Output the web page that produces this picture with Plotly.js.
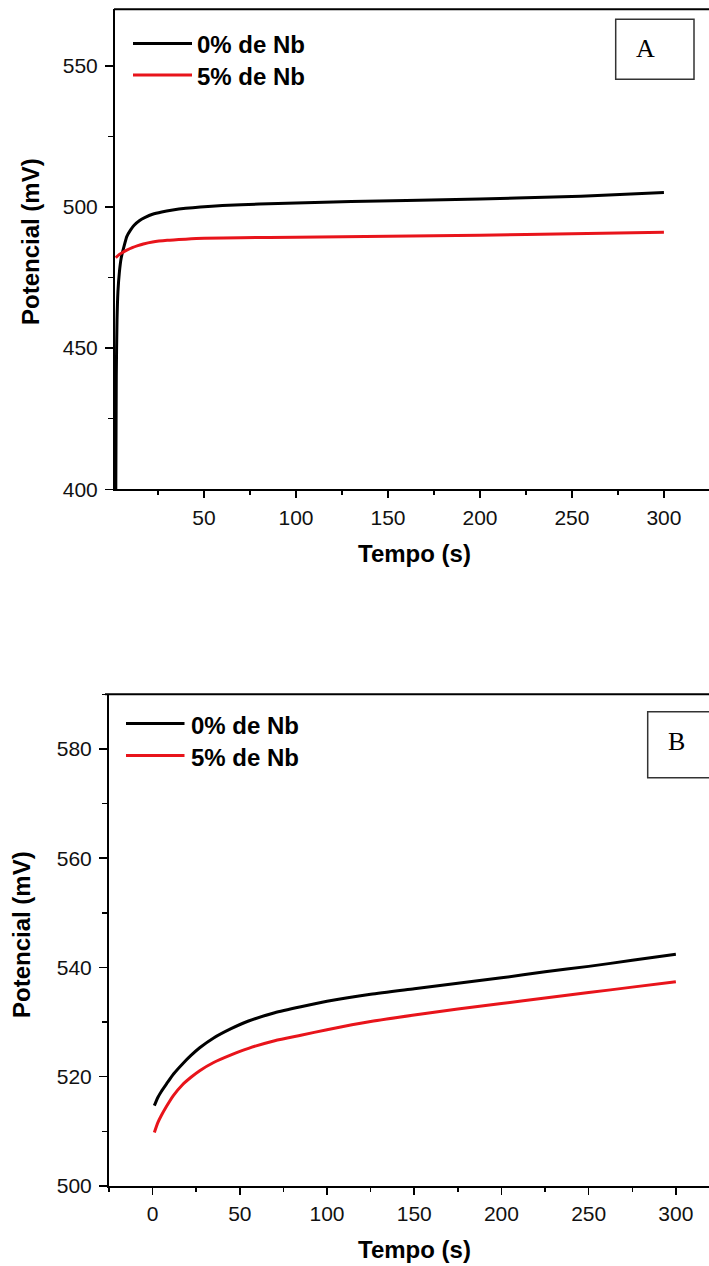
<!DOCTYPE html>
<html>
<head>
<meta charset="utf-8">
<script src="https://cdn.plot.ly/plotly-3.0.1.min.js"></script>
<style>
html,body{margin:0;padding:0;background:#fff;overflow:hidden;}
#chart{width:709px;height:1266px;}
</style>
</head>
<body>
<div id="chart"></div>
<script>
// ---- Data ----
const seriesNames = ["0% de Nb", "5% de Nb"];
const panelLabels = ["A", "B"];
const xTitle = "Tempo (s)";
const yTitle = "Potencial (mV)";

// Panel A
const tA_0 = [2, 2.3, 2.7, 3.2, 4, 5, 6.5, 8, 10, 12, 15, 18, 22, 27, 33, 40, 48, 60, 80, 100, 130, 160, 200, 240, 270, 300];
const vA_0 = [395, 440, 460, 470, 477, 482, 486, 489.5, 491.8, 493.5, 495.2, 496.3, 497.4, 498.2, 498.9, 499.5, 500, 500.5, 501, 501.4, 501.9, 502.3, 502.8, 503.5, 504.2, 505.1];
const tA_5 = [2, 4, 6, 8, 11, 14, 17, 22, 30, 40, 50, 70, 100, 150, 200, 250, 300];
const vA_5 = [482, 483.2, 484, 484.7, 485.6, 486.3, 486.9, 487.6, 488.2, 488.6, 488.9, 489.1, 489.3, 489.6, 490, 490.5, 491];

// Panel B
const tB = [1, 3, 5, 8, 12, 17, 22, 27, 35, 45, 55, 70, 85, 100, 125, 150, 175, 200, 225, 250, 275, 300];
const vB_0 = [514.7, 516.2, 517.3, 518.7, 520.5, 522.3, 523.9, 525.3, 527.1, 528.8, 530.2, 531.7, 532.8, 533.8, 535.1, 536.1, 537.1, 538.1, 539.2, 540.2, 541.3, 542.4];
const vB_5 = [509.8, 511.6, 512.9, 514.6, 516.6, 518.5, 519.9, 521.1, 522.6, 524, 525.2, 526.6, 527.6, 528.6, 530.1, 531.3, 532.4, 533.4, 534.4, 535.4, 536.4, 537.4];

// ---- Layout helpers (pixel -> paper) ----
const W = 709, H = 1266;
const px = x => x / W;
const py = y => 1 - y / H;

const colors = ["#000000", "#e8141b"];
const sans = "Liberation Sans, Arial, sans-serif";

function line(c) { return {color: c, width: 3, shape: "spline", smoothing: 0.6}; }

const traces = [
  {x: tA_0, y: vA_0, xaxis: "x", yaxis: "y", mode: "lines", line: line(colors[0]), name: seriesNames[0]},
  {x: tA_5, y: vA_5, xaxis: "x", yaxis: "y", mode: "lines", line: line(colors[1]), name: seriesNames[1]},
  {x: tB, y: vB_0, xaxis: "x2", yaxis: "y2", mode: "lines", line: line(colors[0]), name: seriesNames[0]},
  {x: tB, y: vB_5, xaxis: "x2", yaxis: "y2", mode: "lines", line: line(colors[1]), name: seriesNames[1]}
];

function xAxis(range, domain, anchor) {
  return {
    domain: domain, range: range, anchor: anchor,
    tick0: 0, dtick: 50, ticks: "outside", ticklen: 7, tickwidth: 1.5, tickcolor: "#000",
    minor: {dtick: 25, tick0: 0, ticks: "outside", ticklen: 4, tickwidth: 1.5, tickcolor: "#000"},
    showline: true, linewidth: 2, linecolor: "#000",
    showgrid: false, zeroline: false,
    tickfont: {family: sans, size: 21, color: "#111"},
    ticklabelstandoff: 1,
    fixedrange: true
  };
}
function yAxis(range, domain, anchor, dtick, minorDtick) {
  return {
    domain: domain, range: range, anchor: anchor,
    dtick: dtick, ticks: "outside", ticklen: 8, tickwidth: 1.5, tickcolor: "#000",
    minor: {dtick: minorDtick, ticks: "outside", ticklen: 5, tickwidth: 1.5, tickcolor: "#000"},
    showline: true, linewidth: 2, linecolor: "#000",
    showgrid: false, zeroline: false,
    tickfont: {family: sans, size: 21, color: "#111"},
    ticklabelstandoff: 3,
    fixedrange: true
  };
}

// pixel geometry of panels
const A = {l: 115, r: 709, t: 9.3, b: 489.3};
const B = {l: 109, r: 709, t: 694.3, b: 1186};

const layout = {
  width: W, height: H,
  margin: {l: 0, r: 0, t: 0, b: 0},
  paper_bgcolor: "#fff", plot_bgcolor: "#fff",
  showlegend: false,
  xaxis: xAxis([1.6, 324.5], [px(A.l), 1], "y"),
  yaxis: yAxis([400, 570], [py(A.b), py(A.t)], "x", 50, 25),
  xaxis2: xAxis([-25, 319], [px(B.l), 1], "y2"),
  yaxis2: yAxis([500, 590], [py(B.b), py(B.t)], "x2", 20, 10),
  shapes: [
    // top frame lines
    {type: "line", xref: "paper", yref: "paper", x0: px(A.l - 1), x1: 1, y0: py(A.t), y1: py(A.t), line: {color: "#000", width: 2}},
    {type: "line", xref: "paper", yref: "paper", x0: px(B.l - 4), x1: 1, y0: py(B.t), y1: py(B.t), line: {color: "#000", width: 2}},
    // legend lines A
    {type: "line", xref: "paper", yref: "paper", x0: px(133), x1: px(192), y0: py(43.5), y1: py(43.5), line: {color: colors[0], width: 3}},
    {type: "line", xref: "paper", yref: "paper", x0: px(133), x1: px(192), y0: py(75), y1: py(75), line: {color: colors[1], width: 3}},
    // legend lines B
    {type: "line", xref: "paper", yref: "paper", x0: px(126), x1: px(184.5), y0: py(723.5), y1: py(723.5), line: {color: colors[0], width: 3}},
    {type: "line", xref: "paper", yref: "paper", x0: px(126), x1: px(184.5), y0: py(755.5), y1: py(755.5), line: {color: colors[1], width: 3}},
    // panel label boxes
    {type: "rect", xref: "paper", yref: "paper", x0: px(615.7), x1: px(694), y0: py(79.3), y1: py(19.3), line: {color: "#333", width: 1.5}, fillcolor: "rgba(0,0,0,0)"},
    {type: "rect", xref: "paper", yref: "paper", x0: px(647.7), x1: px(712), y0: py(777.7), y1: py(711.7), line: {color: "#333", width: 1.5}, fillcolor: "rgba(0,0,0,0)"}
  ],
  annotations: [
    // legend texts
    {xref: "paper", yref: "paper", x: px(195), y: py(45), xanchor: "left", yanchor: "middle", showarrow: false, text: "<b>" + seriesNames[0] + "</b>", font: {family: sans, size: 24, color: "#000"}},
    {xref: "paper", yref: "paper", x: px(195), y: py(76.5), xanchor: "left", yanchor: "middle", showarrow: false, text: "<b>" + seriesNames[1] + "</b>", font: {family: sans, size: 24, color: "#000"}},
    {xref: "paper", yref: "paper", x: px(189), y: py(725), xanchor: "left", yanchor: "middle", showarrow: false, text: "<b>" + seriesNames[0] + "</b>", font: {family: sans, size: 24, color: "#000"}},
    {xref: "paper", yref: "paper", x: px(189), y: py(757), xanchor: "left", yanchor: "middle", showarrow: false, text: "<b>" + seriesNames[1] + "</b>", font: {family: sans, size: 24, color: "#000"}},
    // panel letters
    {xref: "paper", yref: "paper", x: px(645.3), y: py(49), xanchor: "center", yanchor: "middle", showarrow: false, text: panelLabels[0], font: {family: "Liberation Serif, Times New Roman, serif", size: 26, color: "#000"}},
    {xref: "paper", yref: "paper", x: px(676), y: py(741), xanchor: "center", yanchor: "middle", showarrow: false, text: panelLabels[1], font: {family: "Liberation Serif, Times New Roman, serif", size: 26, color: "#000"}},
    // axis titles
    {xref: "paper", yref: "paper", x: px(414), y: py(553), xanchor: "center", yanchor: "middle", showarrow: false, text: "<b>" + xTitle + "</b>", font: {family: sans, size: 24, color: "#000"}},
    {xref: "paper", yref: "paper", x: px(30), y: py(242), xanchor: "center", yanchor: "middle", textangle: -90, showarrow: false, text: "<b>" + yTitle + "</b>", font: {family: sans, size: 24, color: "#000"}},
    {xref: "paper", yref: "paper", x: px(414), y: py(1249), xanchor: "center", yanchor: "middle", showarrow: false, text: "<b>" + xTitle + "</b>", font: {family: sans, size: 24, color: "#000"}},
    {xref: "paper", yref: "paper", x: px(22), y: py(935), xanchor: "center", yanchor: "middle", textangle: -90, showarrow: false, text: "<b>" + yTitle + "</b>", font: {family: sans, size: 24, color: "#000"}}
  ]
};

Plotly.newPlot("chart", traces, layout, {displayModeBar: false, staticPlot: true});
</script>
</body>
</html>
